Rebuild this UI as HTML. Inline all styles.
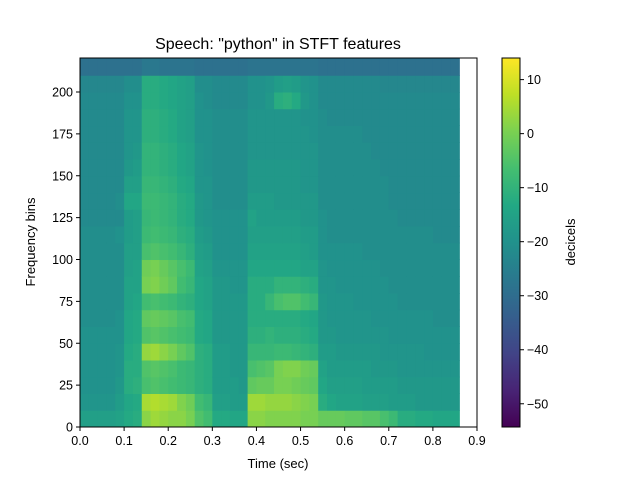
<!DOCTYPE html>
<html><head><meta charset="utf-8">
<style>
body{margin:0;background:#fff;}
svg text{font-family:"Liberation Sans","DejaVu Sans",sans-serif;fill:#000;}
</style></head>
<body>
<svg id="chart" width="640" height="480" xmlns="http://www.w3.org/2000/svg">
<rect width="640" height="480" fill="#fff"/>
<g id="cells"></g>
<g id="axes"></g>
<defs><linearGradient id="vir" x1="0" y1="1" x2="0" y2="0"></linearGradient></defs>
</svg>
<script>
// ---- data ----
const timeStep = 0.02;   // seconds per column
const binStep = 10;      // frequency bins per row
const xTicks = [0.0,0.1,0.2,0.3,0.4,0.5,0.6,0.7,0.8,0.9];
const yTicks = [0,25,50,75,100,125,150,175,200];
const cbTicks = [10,0,-10,-20,-30,-40,-50];
const vmin = -54.3, vmax = 14.0;
// each entry = one time column, values in dB from low freq (bins 0-10) to high (210-220)
const silence = [-16,-19,-20,-20,-20,-20,-21,-21,-21,-21,-21,-21,-22,-22,-22,-22,-22,-22,-22,-22,-23,-29];
const spec = [
silence, silence, silence, silence,
[-15,-17,-18,-19,-19,-20,-20,-21,-21,-21,-21,-20,-22,-21,-22,-22,-22,-22,-22,-22,-23,-29],
[-13,-14,-12,-12,-13,-14,-14,-15,-15,-16,-16,-17,-17,-14,-16,-18,-19,-19,-19,-20,-21,-29],
[-12,-13,-11,-12,-12,-13,-13,-14,-15,-15,-16,-16,-16,-14,-16,-17,-18,-19,-19,-20,-21,-29],
[2,5,-6,-5,3,-5,-3,-7,0,-1,-6,-8,-9,-8,-9,-10,-10,-11,-11,-12,-12,-27],
[4,6,-5,-4,4,-4,-2,-6,1,0,-5,-7,-8,-8,-9,-10,-10,-11,-11,-12,-12,-27],
[3,5,-6,-5,2,-5,-3,-7,-1,-2,-6,-8,-9,-9,-10,-11,-11,-12,-12,-13,-13,-28],
[2,4,-7,-6,0,-6,-4,-8,-3,-4,-7,-9,-10,-10,-11,-12,-12,-13,-13,-14,-14,-28],
[2,1,-8,-8,-3,-7,-6,-10,-7,-6,-9,-11,-12,-12,-13,-14,-14,-15,-15,-15,-15,-28],
[0,-1,-9,-9,-5,-8,-7,-11,-9,-8,-11,-12,-13,-13,-14,-15,-15,-16,-16,-16,-16,-28],
[-5,-7,-11,-11,-11,-13,-13,-14,-14,-15,-16,-17,-18,-18,-19,-19,-19,-20,-20,-20,-21,-29],
[-7,-9,-12,-12,-12,-14,-14,-15,-15,-16,-17,-18,-19,-19,-19,-20,-20,-20,-20,-21,-21,-29],
[-13,-16,-17,-17,-17,-18,-18,-18,-18,-19,-20,-20,-20,-21,-21,-21,-21,-21,-21,-22,-22,-29],
[-13,-16,-17,-17,-17,-18,-18,-18,-18,-19,-20,-20,-20,-21,-21,-21,-21,-21,-21,-22,-22,-29],
[-14,-17,-17,-18,-18,-18,-18,-18,-19,-19,-20,-20,-20,-21,-21,-21,-21,-21,-21,-22,-22,-29],
[-14,-17,-18,-18,-18,-18,-18,-18,-19,-19,-20,-20,-20,-21,-21,-21,-21,-21,-21,-22,-22,-29],
[2,4,-3,-6,-9,-11,-12,-12,-12,-14,-15,-16,-15,-17,-18,-18,-19,-19,-19,-20,-20,-28],
[2,4,-2,-5,-9,-11,-12,-12,-12,-14,-15,-16,-17,-17,-18,-18,-19,-19,-19,-20,-20,-28],
[1,3,-2,-4,-9,-10,-12,-9,-12,-14,-15,-16,-17,-17,-18,-18,-19,-19,-19,-18,-19,-28],
[1,3,0,0,-8,-11,-12,-6,-10,-14,-15,-16,-17,-18,-18,-18,-19,-19,-19,-12,-17,-28],
[1,3,0,1,-8,-11,-12,-5,-10,-14,-15,-16,-17,-18,-18,-18,-19,-19,-19,-11,-16,-28],
[1,2,-1,1,-9,-11,-12,-5,-10,-14,-15,-16,-17,-18,-18,-18,-19,-19,-19,-13,-17,-28],
[0,1,-2,-1,-10,-12,-13,-7,-11,-15,-16,-17,-18,-18,-19,-19,-19,-19,-20,-18,-19,-28],
[0,0,-3,-2,-11,-13,-14,-9,-12,-15,-17,-17,-18,-18,-19,-19,-19,-20,-20,-20,-20,-28],
[-2,-12,-14,-15,-17,-18,-18,-18,-19,-19,-20,-20,-20,-21,-21,-21,-21,-21,-21,-22,-22,-29],
[-2,-14,-16,-17,-17,-18,-19,-19,-19,-20,-20,-21,-21,-21,-21,-21,-21,-21,-22,-22,-22,-29],
[-2,-15,-16,-17,-18,-19,-19,-19,-20,-20,-20,-21,-21,-21,-21,-21,-21,-21,-22,-22,-22,-29],
[-3,-15,-16,-17,-18,-19,-19,-19,-20,-20,-20,-21,-21,-21,-21,-21,-21,-21,-22,-22,-22,-29],
[-3,-15,-16,-17,-18,-19,-19,-20,-20,-20,-20,-21,-21,-21,-21,-21,-21,-21,-22,-22,-22,-29],
[-4,-16,-17,-17,-18,-19,-19,-20,-20,-20,-21,-21,-21,-21,-21,-21,-21,-22,-22,-22,-22,-29],
[-4,-16,-17,-18,-18,-19,-20,-20,-20,-20,-21,-21,-21,-21,-21,-21,-22,-22,-22,-22,-22,-29],
[-6,-16,-17,-18,-19,-19,-20,-20,-20,-21,-21,-21,-21,-21,-21,-22,-22,-22,-22,-22,-23,-29],
[-8,-17,-17,-18,-19,-20,-20,-20,-21,-21,-21,-21,-21,-22,-22,-22,-22,-22,-22,-22,-23,-29],
[-12,-17,-18,-19,-19,-20,-20,-21,-21,-21,-21,-21,-22,-22,-22,-22,-22,-22,-22,-22,-23,-29],
[-12,-17,-18,-19,-19,-20,-20,-21,-21,-21,-21,-21,-22,-22,-22,-22,-22,-22,-22,-22,-23,-29],
[-13,-18,-18,-19,-19,-20,-20,-21,-21,-21,-21,-21,-22,-22,-22,-22,-22,-22,-22,-22,-23,-29],
[-13,-18,-18,-19,-20,-20,-20,-21,-21,-21,-21,-21,-22,-22,-22,-22,-22,-22,-22,-22,-23,-29],
[-14,-18,-18,-19,-20,-20,-21,-21,-21,-21,-21,-22,-22,-22,-22,-22,-22,-22,-22,-22,-23,-29],
[-14,-18,-18,-19,-20,-20,-21,-21,-21,-21,-21,-22,-22,-22,-22,-22,-22,-22,-22,-22,-23,-29],
[-14,-18,-18,-19,-20,-20,-21,-21,-21,-21,-21,-22,-22,-22,-22,-22,-22,-22,-22,-22,-23,-29]
];
// ---- geometry ----
const L=80, R=477, T=58, B=427, xMax=0.9, yMax=220.3;
const xs = t => L + t/xMax*(R-L);
const ys = f => B - f/yMax*(B-T);
const cbL=502, cbR=520, cbS = v => B - (v-vmin)/(vmax-vmin)*(B-T);
const vir=[[68,1,84],[72,36,117],[65,68,135],[53,95,141],[42,120,142],[33,145,140],[34,168,132],[68,190,112],[122,209,81],[189,223,38],[253,231,37]];
function cmap(v){let u=Math.max(0,Math.min(1,(v-vmin)/(vmax-vmin)))*10;let i=Math.min(9,Math.floor(u)),f=u-i;
 const c=vir[i].map((a,k)=>Math.round(a+(vir[i+1][k]-a)*f));return `rgb(${c[0]},${c[1]},${c[2]})`;}
const NS="http://www.w3.org/2000/svg";
function mk(tag,attrs,parent){const e=document.createElementNS(NS,tag);for(const k in attrs)e.setAttribute(k,attrs[k]);parent.appendChild(e);return e;}
const cells=document.getElementById('cells'), axes=document.getElementById('axes');
spec.forEach((col,i)=>{col.forEach((v,j)=>{
 const x0=xs(i*timeStep), x1=xs((i+1)*timeStep), y0=ys(Math.min((j+1)*binStep,yMax)), y1=ys(j*binStep);
 const r=mk('rect',{x:x0,y:y0,width:x1-x0+0.5,height:y1-y0+0.5,fill:cmap(v)},cells);
 
 
});});
const fr=mk('rect',{x:L,y:T,width:R-L,height:B-T,fill:'none',stroke:'#000','stroke-width':1},axes);


xTicks.forEach(t=>{const x=xs(t);mk('line',{x1:x,x2:x,y1:B,y2:B+4,stroke:'#000'},axes);
 const tx=mk('text',{x:x,y:B+18,'text-anchor':'middle','font-size':'12.5'},axes);tx.textContent=t.toFixed(1);
 
 });
yTicks.forEach(t=>{const y=ys(t);mk('line',{x1:L-4,x2:L,y1:y,y2:y,stroke:'#000'},axes);
 const tx=mk('text',{x:L-7,y:y+4.5,'text-anchor':'end','font-size':'12.5'},axes);tx.textContent=t;
 
 });
const grad=document.getElementById('vir');
vir.forEach((c,i)=>mk('stop',{offset:(i*10)+'%','stop-color':`rgb(${c})`},grad));
const cb=mk('rect',{x:cbL,y:T,width:cbR-cbL,height:B-T,fill:'url(#vir)',stroke:'#000'},axes);


cbTicks.forEach(t=>{const y=cbS(t);mk('line',{x1:cbR,x2:cbR+4,y1:y,y2:y,stroke:'#000'},axes);
 const tx=mk('text',{x:cbR+7,y:y+4.5,'font-size':'12.5'},axes);tx.textContent=t<0?'\u2212'+(-t):String(t);
 
 });
function label(txt,attrs,name){const t=mk('text',attrs,axes);t.textContent=txt;}
label('Speech: "python" in STFT features',{x:278,y:49,'text-anchor':'middle','font-size':'16'},'chart-title');
label('Time (sec)',{x:278,y:468,'text-anchor':'middle','font-size':'13'},'x-axis-title');
label('Frequency bins',{x:0,y:0,'text-anchor':'middle','font-size':'13',transform:'translate(35,242) rotate(-90)'},'y-axis-title');
label('decicels',{x:0,y:0,'text-anchor':'middle','font-size':'13',transform:'translate(575,242) rotate(-90)'},'colorbar-title');
</script>
</body></html>
